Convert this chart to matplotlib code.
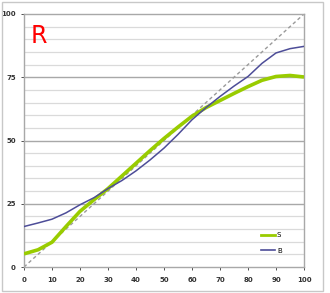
import matplotlib
matplotlib.use('Agg')
import matplotlib.pyplot as plt
from matplotlib.patches import Rectangle
from matplotlib.lines import Line2D
import numpy as np

# values, every 5 along x
x_vals = [0, 5, 10, 15, 20, 25, 30, 35, 40, 45, 50,
          55, 60, 65, 70, 75, 80, 85, 90, 95, 100]
s_vals = [5.2, 6.8, 9.8, 16.0, 22.0, 26.6, 31.0, 36.0, 41.0, 46.0, 50.8,
          55.3, 59.6, 63.0, 65.8, 68.6, 71.3, 73.8, 75.3, 75.7, 75.1]
b_vals = [16.0, 17.4, 18.9, 21.4, 24.6, 27.4, 31.0, 34.2, 38.0, 42.3, 47.0,
          52.4, 58.2, 63.0, 67.4, 71.5, 75.3, 80.5, 84.6, 86.3, 87.2]
diag = [0, 100]
series_names = ['S', 'B']

xticks = list(range(0, 101, 10))
yticks = [0, 25, 50, 75, 100]

fig = plt.figure(figsize=(3.30, 2.93), dpi=100)
ax = fig.add_axes([24/330, 1 - 267/293, 280/330, 253/293])

# grid: light lines every 5, darker every 25
for v in range(5, 100, 5):
    if v % 25 == 0:
        ax.axhline(v, color='#a8a8a8', lw=1.0, zorder=1)
    else:
        ax.axhline(v, color='#dadada', lw=0.9, zorder=1)

ax.plot(diag, diag, color='#9a9a9a', lw=1.0, dashes=(2.5, 2), zorder=2)
ax.plot(x_vals, s_vals, color='#99cc00', lw=2.6, solid_capstyle='butt', zorder=3)
ax.plot(x_vals, b_vals, color='#4d4d98', lw=1.1, zorder=4)

ax.set_xlim(0, 100)
ax.set_ylim(0, 100)
ax.set_xticks(xticks)
ax.set_yticks(yticks)
ax.tick_params(labelsize=5, colors='#333333', length=2, width=0.6, pad=4)
ax.tick_params(axis='x', pad=5)
for lab in ax.get_xticklabels() + ax.get_yticklabels():
    lab.set_fontweight('bold')
for sp in ax.spines.values():
    sp.set_color('#a8a8a8')
    sp.set_linewidth(1.0)

# legend
handles = [Line2D([], [], color='#99cc00', lw=2),
           Line2D([], [], color='#4d4d98', lw=1.2)]
ax.legend(handles, series_names, loc='center left', frameon=False,
          bbox_to_anchor=(261/330, 50/293), bbox_transform=fig.transFigure,
          fontsize=5, handlelength=2.0, handletextpad=0.3, labelspacing=1.3,
          borderpad=0, borderaxespad=0)

# big red letter
fig.text(31/330, 1 - 43/293, 'R', color='#ff0000', fontsize=17, va='baseline')

# outer frame around the whole picture
fig.patches.append(Rectangle((2/330, 2/293), 321/330, 289/293,
                             transform=fig.transFigure, fill=False,
                             edgecolor='#c8c8c8', lw=1.0))

fig.savefig('out.png', dpi=100)
